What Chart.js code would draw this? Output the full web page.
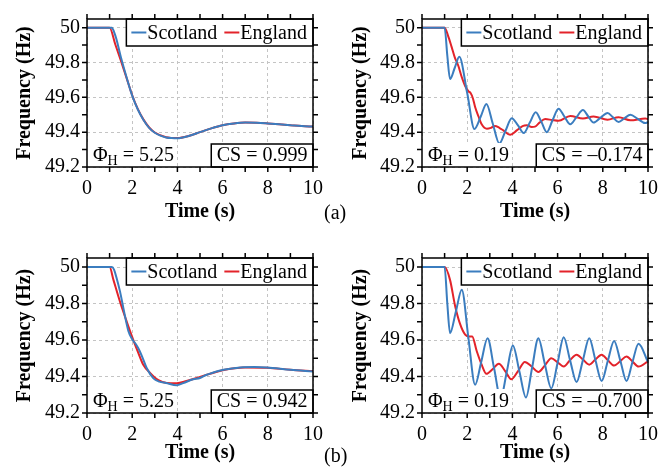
<!DOCTYPE html>
<html>
<head>
<meta charset="utf-8">
<script src="https://cdn.jsdelivr.net/npm/chart.js@4.4.0/dist/chart.umd.min.js"></script>
<style>
body { margin: 0; background: #fff; width: 672px; height: 471px; position: relative; overflow: hidden; }
.panel { position: absolute; width: 336px; height: 235px; }
.panel canvas { display: block; }
.tag { position: absolute; font: 20px "Liberation Serif", serif; line-height: 20px; color: #000; }
</style>
</head>
<body>
<div class="panel" style="left:0;top:0"><canvas id="a1" width="336" height="235"></canvas></div>
<div class="panel" style="left:336px;top:0"><canvas id="a2" width="336" height="235"></canvas></div>
<div class="panel" style="left:0;top:235px"><canvas id="b1" width="336" height="235"></canvas></div>
<div class="panel" style="left:336px;top:235px"><canvas id="b2" width="336" height="235"></canvas></div>
<div class="tag" style="left:324px;top:202px">(a)</div>
<div class="tag" style="left:324px;top:445px">(b)</div>
<script>
// ------------------ Data ------------------
const xTicks = [0, 2, 4, 6, 8, 10];
const yTicks = [49.2, 49.4, 49.6, 49.8, 50];
const xMinor = [0, 1, 2, 3, 4, 5, 6, 7, 8, 9, 10];
const yMinor = [49.2, 49.3, 49.4, 49.5, 49.6, 49.7, 49.8, 49.9, 50];

// (a) left
const a1ScotT = [0, 1.0, 1.1, 1.2, 1.3, 1.5, 1.75, 2.0, 2.25, 2.5, 2.75, 3.0, 3.25, 3.5, 3.75, 4.0, 4.5, 5.0, 5.5, 6.0, 6.5, 7.0, 7.5, 8.0, 8.5, 9.0, 9.5, 10];
const a1ScotF = [50, 50, 50, 49.975, 49.935, 49.83, 49.715, 49.61, 49.53, 49.47, 49.425, 49.397, 49.38, 49.37, 49.366, 49.365, 49.378, 49.40, 49.422, 49.44, 49.45, 49.455, 49.454, 49.45, 49.445, 49.44, 49.435, 49.432];
const a1EngT = [0, 1.0, 1.25, 1.5, 1.75, 2.0, 2.25, 2.5, 2.75, 3.0, 3.5, 4.0, 4.5, 5, 5.5, 6, 6.5, 7, 7.5, 8, 8.5, 9, 9.5, 10];
const a1EngF = [50, 50, 49.905, 49.81, 49.712, 49.612, 49.532, 49.472, 49.427, 49.398, 49.371, 49.366, 49.378, 49.40, 49.422, 49.44, 49.45, 49.455, 49.454, 49.45, 49.445, 49.44, 49.435, 49.432];

// (a) right
const a2ScotT = [0, 1.0, 1.12, 1.24, 1.45, 1.65, 2.0, 2.32, 2.6, 2.85, 3.13, 3.42, 3.7, 3.97, 4.24, 4.5, 4.77, 5.03, 5.28, 5.52, 5.78, 6.04, 6.3, 6.56, 6.84, 7.12, 7.36, 7.59, 7.9, 8.21, 8.45, 8.7, 8.96, 9.22, 9.55, 9.88, 10];
const a2ScotF = [50, 50, 49.84, 49.705, 49.77, 49.833, 49.625, 49.418, 49.49, 49.562, 49.45, 49.335, 49.41, 49.48, 49.44, 49.395, 49.455, 49.515, 49.46, 49.40, 49.47, 49.535, 49.49, 49.445, 49.487, 49.527, 49.49, 49.455, 49.483, 49.51, 49.485, 49.458, 49.48, 49.50, 49.476, 49.452, 49.458];
const a2EngT = [0, 1.0, 1.15, 1.31, 1.45, 1.61, 1.75, 1.91, 2.05, 2.15, 2.25, 2.35, 2.5, 2.64, 2.87, 3.05, 3.23, 3.42, 3.6, 3.9, 4.19, 4.45, 4.64, 4.85, 5.0, 5.2, 5.45, 5.75, 6.04, 6.56, 7.12, 7.59, 8.21, 8.7, 9.22, 9.88, 10];
const a2EngF = [50, 50, 49.955, 49.89, 49.83, 49.78, 49.72, 49.665, 49.635, 49.625, 49.595, 49.545, 49.49, 49.445, 49.42, 49.425, 49.436, 49.425, 49.41, 49.385, 49.41, 49.435, 49.44, 49.43, 49.432, 49.455, 49.475, 49.47, 49.465, 49.493, 49.478, 49.49, 49.472, 49.486, 49.468, 49.478, 49.475];

// (b) left
const b1ScotT = [0, 1.1, 1.2, 1.3, 1.46, 1.61, 1.83, 2.02, 2.15, 2.27, 2.42, 2.64, 2.94, 3.2, 3.5, 3.97, 4.26, 4.7, 5.0, 5.3, 5.59, 6.04, 6.78, 7.4, 7.96, 9.0, 10];
const b1ScotF = [50, 50, 49.985, 49.945, 49.867, 49.775, 49.65, 49.60, 49.58, 49.555, 49.515, 49.447, 49.39, 49.372, 49.365, 49.352, 49.364, 49.385, 49.392, 49.41, 49.422, 49.437, 49.45, 49.452, 49.45, 49.437, 49.428];
const b1EngT = [0, 1.0, 1.17, 1.46, 1.76, 2.05, 2.27, 2.49, 2.79, 3.16, 3.53, 3.97, 4.4, 5.0, 6.0, 7.0, 8.0, 9.0, 10];
const b1EngF = [50, 50, 49.93, 49.81, 49.70, 49.60, 49.53, 49.465, 49.42, 49.38, 49.365, 49.363, 49.375, 49.398, 49.435, 49.45, 49.448, 49.437, 49.43];

// (b) right
const b2ScotT = [0, 1.0, 1.12, 1.24, 1.5, 1.76, 2.05, 2.35, 2.62, 2.9, 3.19, 3.48, 3.75, 4.02, 4.31, 4.6, 4.87, 5.15, 5.43, 5.72, 6.0, 6.27, 6.55, 6.84, 7.12, 7.4, 7.67, 7.95, 8.22, 8.5, 8.78, 9.05, 9.31, 9.58, 10];
const b2ScotF = [50, 50, 49.80, 49.638, 49.757, 49.876, 49.615, 49.355, 49.48, 49.61, 49.445, 49.28, 49.425, 49.57, 49.428, 49.285, 49.447, 49.61, 49.472, 49.335, 49.475, 49.615, 49.49, 49.37, 49.49, 49.61, 49.492, 49.375, 49.485, 49.595, 49.485, 49.375, 49.478, 49.58, 49.48];
const b2EngT = [0, 1.0, 1.24, 1.46, 1.68, 1.91, 2.1, 2.22, 2.42, 2.64, 2.85, 3.12, 3.4, 3.68, 3.95, 4.25, 4.55, 4.85, 5.15, 5.43, 5.72, 6.0, 6.27, 6.55, 6.84, 7.12, 7.4, 7.67, 7.95, 8.22, 8.5, 8.78, 9.05, 9.31, 9.58, 10];
const b2EngF = [50, 50, 49.93, 49.79, 49.69, 49.63, 49.62, 49.62, 49.54, 49.465, 49.415, 49.44, 49.47, 49.43, 49.385, 49.43, 49.48, 49.455, 49.425, 49.46, 49.50, 49.478, 49.455, 49.49, 49.52, 49.493, 49.465, 49.493, 49.52, 49.49, 49.46, 49.485, 49.51, 49.483, 49.455, 49.483];

const BLUE = "#3b7dbf";
const RED = "#e3232a";
const FONT = '"Liberation Serif", serif';

Chart.defaults.font.family = FONT;
Chart.defaults.font.size = 20;
Chart.defaults.color = "#000";

function toPoints(ts, fs) {
    return ts.map((t, i) => ({ x: t, y: fs[i] }));
}

// ------------------ Frame, ticks, legend, text boxes ------------------
const framePlugin = {
    id: "frame",
    afterDatasetsDraw(chart, args, opts) {
        const ctx = chart.ctx;
        const { left, right, top, bottom } = chart.chartArea;
        const xs = chart.scales.x, ys = chart.scales.y;
        ctx.save();

        // Phi box (white, no border)
        ctx.font = "20px " + FONT;
        let tx = left + 6;
        const base = bottom - 6.5;
        const wPhi = ctx.measureText("\u03A6").width;
        ctx.font = "14px " + FONT;
        const wH = ctx.measureText("H").width;
        ctx.font = "20px " + FONT;
        const wRest = ctx.measureText(" = " + opts.phi).width;
        ctx.fillStyle = "#fff";
        ctx.fillRect(left, bottom - 24, 6 + wPhi + wH + wRest + 3, 24);
        ctx.fillStyle = "#000";
        ctx.textBaseline = "alphabetic";
        ctx.textAlign = "left";
        ctx.fillText("\u03A6", tx, base); tx += wPhi;
        ctx.font = "14px " + FONT;
        ctx.fillText("H", tx, base + 4); tx += wH;
        ctx.font = "20px " + FONT;
        ctx.fillText(" = " + opts.phi, tx, base);

        // CS box
        const csText = "CS = " + opts.cs;
        const csW = ctx.measureText(csText).width + 11;
        ctx.fillStyle = "#fff";
        ctx.fillRect(right - csW, bottom - 23, csW, 23);
        ctx.strokeStyle = "#000";
        ctx.lineWidth = 1.5;
        ctx.strokeRect(right - csW, bottom - 23, csW, 23);
        ctx.fillStyle = "#000";
        ctx.textAlign = "center";
        ctx.textBaseline = "middle";
        ctx.fillText(csText, right - csW / 2, bottom - 11);

        // legend
        const sets = chart.data.datasets;
        const lineLen = 15, padL = 5, padR = 6, between = 7;
        let lw = padL + padR;
        sets.forEach((d, i) => {
            lw += lineLen + 1 + ctx.measureText(d.label).width + (i ? between : 0);
        });
        const lh = 27, lx = right - lw, ly = top;
        ctx.fillStyle = "#fff";
        ctx.fillRect(lx, ly, lw, lh);
        ctx.strokeRect(lx, ly, lw, lh);
        let cx = lx + padL;
        const cy = ly + lh / 2;
        ctx.textAlign = "left";
        sets.forEach((d, i) => {
            if (i) cx += between;
            ctx.strokeStyle = d.borderColor;
            ctx.lineWidth = 2;
            ctx.beginPath(); ctx.moveTo(cx, cy); ctx.lineTo(cx + lineLen, cy); ctx.stroke();
            cx += lineLen + 1;
            ctx.fillStyle = "#000";
            ctx.fillText(d.label, cx, cy + 1);
            cx += ctx.measureText(d.label).width;
        });

        // axes box + outward ticks on every side
        ctx.strokeStyle = "#000";
        ctx.lineWidth = 1.5;
        ctx.strokeRect(left, top, right - left, bottom - top);
        const tl = 5;
        ctx.beginPath();
        xMinor.forEach(v => {
            const p = xs.getPixelForValue(v);
            ctx.moveTo(p, bottom); ctx.lineTo(p, bottom + tl);
            ctx.moveTo(p, top); ctx.lineTo(p, top - tl);
        });
        yMinor.forEach(v => {
            const p = ys.getPixelForValue(v);
            ctx.moveTo(left, p); ctx.lineTo(left - tl, p);
            ctx.moveTo(right, p); ctx.lineTo(right + tl, p);
        });
        ctx.stroke();
        ctx.restore();
    }
};

function makeChart(id, p) {
    return new Chart(document.getElementById(id), {
        type: "line",
        data: {
            datasets: [
                { label: "Scotland", data: toPoints(p.scotT, p.scotF), borderColor: BLUE },
                { label: "England", data: toPoints(p.engT, p.engF), borderColor: RED }
            ]
        },
        options: {
            responsive: false,
            animation: false,
            layout: { padding: { left: 0, right: p.padRight, top: p.padTop, bottom: 0 } },
            elements: {
                point: { radius: 0 },
                line: { borderWidth: 2, cubicInterpolationMode: "monotone", fill: false }
            },
            plugins: {
                legend: { display: false },
                tooltip: { enabled: false },
                frame: { phi: p.phi, cs: p.cs }
            },
            scales: {
                x: {
                    type: "linear", min: 0, max: 10,
                    afterBuildTicks: s => { s.ticks = xTicks.map(v => ({ value: v })); },
                    afterFit: s => { s.height = p.xAxisH; },
                    grid: { color: "#c4c4c4", lineWidth: 1, drawTicks: false },
                    border: { display: false, dash: [3, 3] },
                    ticks: { padding: 10, maxRotation: 0, autoSkip: false, font: { size: 20 } },
                    title: { display: true, text: "Time (s)", font: { size: 20, weight: "bold" }, padding: { top: 0, bottom: p.xTitlePad } }
                },
                y: {
                    type: "linear", min: 49.2, max: 50.05,
                    afterBuildTicks: s => { s.ticks = yTicks.map(v => ({ value: v })); },
                    afterFit: s => { s.width = p.yAxisW; },
                    grid: { color: "#c4c4c4", lineWidth: 1, drawTicks: false },
                    border: { display: false, dash: [3, 3] },
                    ticks: { padding: 7, font: { size: 20 }, callback: v => String(+v.toFixed(1)) },
                    title: { display: true, text: "Frequency (Hz)", font: { size: 20, weight: "bold" }, padding: { top: 13, bottom: 0 } }
                }
            }
        },
        plugins: [framePlugin]
    });
}

makeChart("a1", { scotT: a1ScotT, scotF: a1ScotF, engT: a1EngT, engF: a1EngF, phi: "5.25", cs: "0.999",
    padTop: 12, padRight: 23, yAxisW: 87, xAxisH: 68, xTitlePad: 11 });
makeChart("a2", { scotT: a2ScotT, scotF: a2ScotF, engT: a2EngT, engF: a2EngF, phi: "0.19", cs: "\u20130.174",
    padTop: 12, padRight: 24, yAxisW: 86, xAxisH: 68, xTitlePad: 11 });
makeChart("b1", { scotT: b1ScotT, scotF: b1ScotF, engT: b1EngT, engF: b1EngF, phi: "5.25", cs: "0.942",
    padTop: 23, padRight: 23, yAxisW: 87, xAxisH: 57, xTitlePad: 5 });
makeChart("b2", { scotT: b2ScotT, scotF: b2ScotF, engT: b2EngT, engF: b2EngF, phi: "0.19", cs: "\u20130.700",
    padTop: 23, padRight: 24, yAxisW: 86, xAxisH: 57, xTitlePad: 5 });
</script>
</body>
</html>
